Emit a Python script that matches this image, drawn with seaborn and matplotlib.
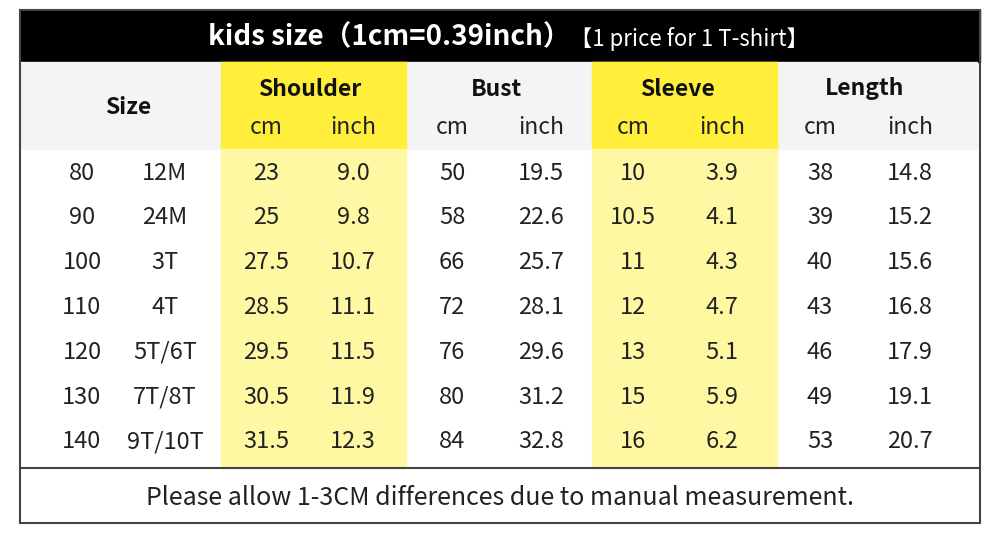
import pandas as pd
import numpy as np
import matplotlib.pyplot as plt
import seaborn as sns
from matplotlib.patches import Rectangle

# table data
size_cm = ['80', '90', '100', '110', '120', '130', '140']
size_age = ['12M', '24M', '3T', '4T', '5T/6T', '7T/8T', '9T/10T']
shoulder_cm = ['23', '25', '27.5', '28.5', '29.5', '30.5', '31.5']
shoulder_inch = ['9.0', '9.8', '10.7', '11.1', '11.5', '11.9', '12.3']
bust_cm = ['50', '58', '66', '72', '76', '80', '84']
bust_inch = ['19.5', '22.6', '25.7', '28.1', '29.6', '31.2', '32.8']
sleeve_cm = ['10', '10.5', '11', '12', '13', '15', '16']
sleeve_inch = ['3.9', '4.1', '4.3', '4.7', '5.1', '5.9', '6.2']
length_cm = ['38', '39', '40', '43', '46', '49', '53']
length_inch = ['14.8', '15.2', '15.6', '16.8', '17.9', '19.1', '20.7']

groups = ['Size', 'Shoulder', 'Bust', 'Sleeve', 'Length']
title = 'kids size（1cm=0.39inch）'
subtitle = '【1 price for 1 T-shirt】'
footer = 'Please allow 1-3CM differences due to manual measurement.'

df = pd.DataFrame({
    'size_cm': size_cm, 'size_age': size_age,
    'shoulder_cm': shoulder_cm, 'shoulder_inch': shoulder_inch,
    'bust_cm': bust_cm, 'bust_inch': bust_inch,
    'sleeve_cm': sleeve_cm, 'sleeve_inch': sleeve_inch,
    'length_cm': length_cm, 'length_inch': length_inch,
})

sns.set_theme(style='white')
plt.rcParams['font.family'] = ['Noto Sans CJK SC', 'DejaVu Sans']

# layout (pixels)
group_edges = [20, 221, 406, 592, 777, 977]
col_x = [82, 165, 266, 353, 452, 541, 633, 722, 820, 910]
highlight = [False, True, False, True, False]
row_y0, row_h = 173, 44.8

fig = plt.figure(figsize=(10, 5.6), dpi=100)
ax = fig.add_axes([0, 0, 1, 1])
ax.set_xlim(0, 1000)
ax.set_ylim(560, 0)
ax.axis('off')

# title band
ax.add_patch(Rectangle((20, 10), 960, 52, color='black', zorder=1))
ax.text(389, 37, title, color='white', fontsize=20, fontweight='bold',
        ha='center', va='center', zorder=3)
ax.text(689, 39, subtitle, color='white', fontsize=16, ha='center', va='center', zorder=3)

# header band + column backgrounds
ax.add_patch(Rectangle((20, 62), 957, 87, color='#f4f4f4', zorder=1))
for g, hl in enumerate(highlight):
    if hl:
        x0, x1 = group_edges[g], group_edges[g + 1]
        ax.add_patch(Rectangle((x0, 62), x1 - x0, 87, color='#ffee3a', zorder=1))
        ax.add_patch(Rectangle((x0, 149), x1 - x0, 319, color='#fff8a3', zorder=1))

# headers
ax.text(128, 108, groups[0], fontsize=16.5, fontweight='bold', color='#111', ha='center', va='center')
for g in range(1, 5):
    cx = (col_x[2 * g] + col_x[2 * g + 1]) / 2
    ax.text(cx, 89, groups[g], fontsize=16.5, fontweight='bold', color='#111', ha='center', va='center')
    ax.text(col_x[2 * g], 128, 'cm', fontsize=16.5, color='#222', ha='center', va='center')
    ax.text(col_x[2 * g + 1], 128, 'inch', fontsize=16.5, color='#222', ha='center', va='center')

# body
for i, row in df.iterrows():
    y = row_y0 + row_h * i
    for j, val in enumerate(row.values):
        ax.text(col_x[j], y, val, fontsize=17, color='#222', ha='center', va='center')

# footer + frame
ax.plot([20, 980], [468, 468], color='#444', lw=1.5, zorder=4)
ax.add_patch(Rectangle((20, 10), 960, 513, fill=False, edgecolor='#444', lw=1.5, zorder=4))
ax.text(500, 498, footer, fontsize=18, color='#222', ha='center', va='center')

fig.savefig('out.png', dpi=100, facecolor='white')
